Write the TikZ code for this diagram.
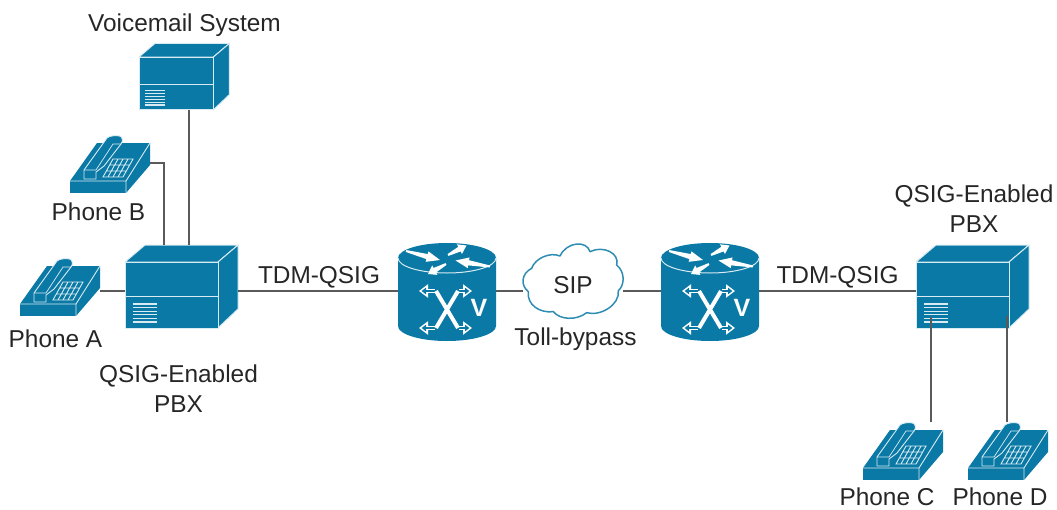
\documentclass[tikz,border=0pt]{standalone}
\usepackage{fontspec}
\setmainfont{Liberation Sans}
\usetikzlibrary{calc,fit,arrows.meta}
\definecolor{ciscoblue}{HTML}{0A79A6}
\definecolor{wiregray}{HTML}{5A5A5A}
\definecolor{edgewhite}{HTML}{D8EBF2}
\tikzset{
  wire/.style={draw=wiregray,line width=1.3pt},
  lbl/.style={text=black!85,font=\fontsize{24.4}{30}\selectfont,inner sep=0pt,align=center},
  iconface/.style={fill=ciscoblue,draw=edgewhite,line width=1pt,line join=round},
  anchorbox/.style={inner sep=0pt,outer sep=0pt},
}
% front top-left (x,y); scale
\newcommand{\serverbox}[4]{%
\begin{scope}[shift={(#2,#3)},scale=#4]
  \path[iconface] (0,0) -- (20,-17) -- (113,-17) -- (93,0) -- cycle;
  \path[iconface] (93,0) -- (113,-17) -- (113,47) -- (93,66) -- cycle;
  \path[iconface] (0,0) rectangle (93,66);
  \draw[edgewhite,line width=1pt] (0,34) -- (93,34);
  \foreach \k in {0,...,5}{\draw[edgewhite,line width=1.2pt] (8,42+\k*3.6) -- (32,42+\k*3.6);}
  \coordinate (#1-a) at (0,-17);
  \coordinate (#1-b) at (113,66);
\end{scope}
\node[fit=(#1-a)(#1-b),anchorbox] (#1) {};}
% top-left of bounding box (x,y)
\newcommand{\deskphone}[3]{%
\begin{scope}[shift={(#2,#3)}]
  \path[fill=ciscoblue] (56,46) -- (80,8) -- (80,30) -- (56,58) -- cycle;
  \path[fill=ciscoblue] (0,46) -- (27,8) -- (80,8) -- (56,46) -- cycle;
  \path[fill=ciscoblue] (0,46) rectangle (56,58);
  \draw[edgewhite,line width=.9pt] (0,46) -- (56,46) -- (80,8) (56,46) -- (56,58);
  \path[fill=ciscoblue,draw=edgewhite,line width=.9pt,line join=round]
    (14,44) -- (14,35) -- (37,3) .. controls (39,0.5) and (48,0) .. (51,1.5)
    .. controls (53,3) and (53,6) .. (51,9) -- (34,31) -- (26,37) -- (26,44) -- cycle;
  \draw[edgewhite,line width=.7pt] (14,35) -- (26,35) (26,35) -- (43,9) -- (51,9);
  \draw[edgewhite,line width=.9pt] (33,42) -- (53,42) -- (63,24) -- (43,24) -- cycle
    (36.3,36) -- (56.3,36) (39.7,30) -- (59.7,30)
    (38,42) -- (48,24) (43,42) -- (53,24) (48,42) -- (58,24);
  \coordinate (#1-a) at (0,0);
  \coordinate (#1-b) at (80,58);
\end{scope}
\node[fit=(#1-a)(#1-b),anchorbox] (#1) {};}
% tapered white arrow
\newcommand{\taper}[4]{%
  \coordinate (ta) at (#1,#2); \coordinate (tb) at (#3,#4);
  \fill[white] ($(ta)!1pt!90:(tb)$) -- ($(ta)!.62!(tb)!2.6pt!90:(tb)$) -- ($(ta)!.62!(tb)!5.4pt!90:(tb)$) -- (tb)
   -- ($(ta)!.62!(tb)!5.4pt!-90:(tb)$) -- ($(ta)!.62!(tb)!2.6pt!-90:(tb)$) -- ($(ta)!1pt!-90:(tb)$) -- cycle;}
% outlined arrow of the switch symbol
\newcommand{\hollow}[4]{%
  \draw[white,line width=4pt,-{Triangle[length=9pt,width=13pt]}] (#1,#2) -- (#3,#4);
  \coordinate (ha) at (#1,#2); \coordinate (hb) at (#3,#4);
  \draw[ciscoblue,line width=1.3pt,-{Triangle[length=4.4pt,width=6.4pt]}] (ha) -- ($(hb)!2.6pt!(ha)$);}
% centre x, top-ellipse centre y
\newcommand{\voiceRouter}[3]{%
\begin{scope}[shift={(#2,#3)}]
  \fill[ciscoblue] (-49,0) -- (-49,68) arc[start angle=180,end angle=0,x radius=49,y radius=15]
    -- (49,0) arc[start angle=0,end angle=180,x radius=49,y radius=15] -- cycle;
  \fill[ciscoblue] (0,0) ellipse[x radius=49,y radius=15];
  \draw[edgewhite,line width=1pt] (49,0) arc[start angle=0,end angle=180,x radius=49,y radius=15];
  \taper{-41}{-7}{-7}{2}
  \taper{1}{-3}{19.5}{-12.5}
  \taper{43}{8.5}{8.5}{2.5}
  \taper{-1}{6}{-19}{16}
  \hollow{-12}{33}{-28}{33}
  \hollow{12}{33}{25}{33}
  \hollow{-12}{70}{-28}{70}
  \hollow{12}{70}{25}{70}
  \draw[white,line width=4pt] (-11,33) -- (11,70) (11,33) -- (-11,70);
  \node[text=white,anchorbox,font=\fontsize{25}{25}\selectfont\bfseries] at (32,50) {V};
  \coordinate (#1-a) at (-49,-15);
  \coordinate (#1-b) at (49,83);
\end{scope}
\node[fit=(#1-a)(#1-b),anchorbox] (#1) {};}
\begin{document}
\begin{tikzpicture}[x=1pt,y=-1pt]
\useasboundingbox (0,0) rectangle (1057,509);
\coordinate (rail) at (0,291);
\coordinate (railB) at (0,163);

\deskphone{phoneA}{20}{258}
\deskphone{phoneB}{70}{135}
\deskphone{phoneC}{863}{422}
\deskphone{phoneD}{968}{422}
\serverbox{voicemail}{139}{57}{0.8}
\serverbox{pbxL}{125}{262}{1}
\serverbox{pbxR}{916}{262}{1}
\voiceRouter{routerL}{447}{258}
\voiceRouter{routerR}{710}{258}

% SIP cloud
\begin{scope}[shift={(390,230)},scale=1/3]
  \path[fill=white,draw=ciscoblue!85,line width=1.5pt,line join=round]
    (425,115) .. controls (435,85) and (480,65) .. (510,78)
    .. controls (530,35) and (590,30) .. (600,65)
    .. controls (640,45) and (690,70) .. (680,105)
    .. controls (705,125) and (705,165) .. (685,182)
    .. controls (690,225) and (630,260) .. (590,248)
    .. controls (560,272) and (510,270) .. (490,245)
    .. controls (450,250) and (410,225) .. (415,185)
    .. controls (390,165) and (395,130) .. (425,115) -- cycle;
  \coordinate (cloud-a) at (400,40);
  \coordinate (cloud-b) at (700,265);
\end{scope}
\node[fit=(cloud-a)(cloud-b),anchorbox] (sipcloud) {};

% connectors
\draw[wire] (voicemail.south -| 189,0) -- (189,0 |- pbxL.north);
\draw[wire] (phoneB.east |- railB) -- (164,163) -- (164,0 |- pbxL.north);
\draw[wire] (phoneA.east |- rail) -- (pbxL.west |- rail);
\draw[wire] (pbxL.east |- rail) -- (routerL.west |- rail);
\draw[wire] (routerL.east |- rail) -- (sipcloud.west |- rail);
\draw[wire] (sipcloud.east |- rail) -- (routerR.west |- rail);
\draw[wire] (routerR.east |- rail) -- (pbxR.west |- rail);
\draw[wire] (931,317) -- (931,0 |- phoneC.north);
\draw[wire] (1007,316) -- (1007,0 |- phoneD.north);

% labels
\node[lbl] at (184.5,25) {Voicemail System};
\node[lbl] at (98.5,212) {Phone B};
\node[lbl] at (55.5,339) {Phone A};
\node[lbl] at (178.5,389) {QSIG-Enabled\\PBX};
\node[lbl] at (319,277) {TDM-QSIG};
\node[lbl] at (837.5,277) {TDM-QSIG};
\node[lbl] at (573,285) {SIP};
\node[lbl] at (575.5,339) {Toll-bypass};
\node[lbl] at (974,209) {QSIG-Enabled\\PBX};
\node[lbl] at (887,497) {Phone C};
\node[lbl] at (1000,497) {Phone D};
\end{tikzpicture}
\end{document}
